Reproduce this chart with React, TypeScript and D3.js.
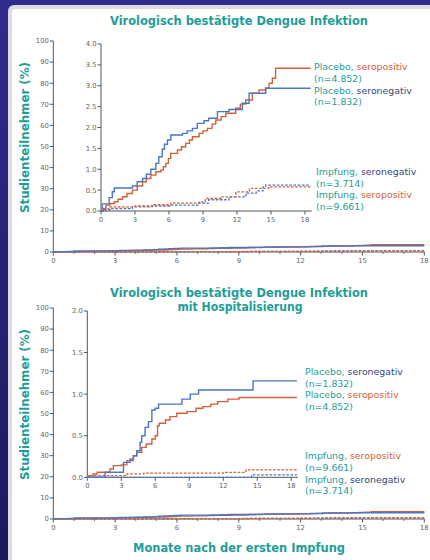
import React from "react";
import * as d3 from "d3";

type Pt = [number, number];

// ---------- data (months, cumulative %) ----------
const X_TICKS = [0, 3, 6, 9, 12, 15, 18];
const MAIN_Y_TICKS = [0, 10, 20, 30, 40, 50, 60, 70, 80, 90, 100];
const TOP_INSET_Y_TICKS = [0, 0.5, 1, 1.5, 2, 2.5, 3, 3.5, 4];
const BOT_INSET_Y_TICKS = [0, 0.5, 1, 1.5, 2];

const topPlaceboSeroneg: Pt[] = [
  [0, 0], [0.1, 0.17], [0.72, 0.32], [1.0, 0.46], [1.17, 0.55], [2.78, 0.6], [3.2, 0.7], [3.67, 0.78],
  [4.0, 0.88], [4.4, 1.0], [4.84, 1.14], [5.1, 1.3], [5.4, 1.48], [5.6, 1.6], [5.87, 1.7], [6.16, 1.82],
  [7.19, 1.86], [7.6, 1.92], [8.07, 1.98], [8.5, 2.1], [9.1, 2.16], [9.5, 2.22], [10.28, 2.38],
  [11.3, 2.43], [12.48, 2.58], [13.07, 2.82], [14.53, 2.94], [18.5, 2.94],
];
const topPlaceboSeropos: Pt[] = [
  [0, 0], [0.2, 0.06], [0.44, 0.14], [0.8, 0.18], [1.17, 0.22], [1.5, 0.28], [1.9, 0.34], [2.3, 0.42],
  [2.78, 0.5], [3.2, 0.6], [3.67, 0.7], [4.0, 0.78], [4.4, 0.86], [4.84, 0.94], [5.28, 0.98], [5.5, 1.06],
  [5.72, 1.14], [5.95, 1.26], [6.16, 1.38], [6.75, 1.46], [7.1, 1.54], [7.48, 1.62], [7.8, 1.7],
  [8.07, 1.78], [8.66, 1.86], [9.0, 1.92], [9.39, 1.98], [9.8, 2.08], [10.13, 2.18], [10.6, 2.26],
  [11.01, 2.34], [11.89, 2.46], [12.3, 2.56], [12.77, 2.66], [13.36, 2.82], [13.95, 2.9], [14.53, 2.95],
  [14.83, 3.06], [15.12, 3.18], [15.41, 3.42], [18.5, 3.42],
];
const topVaccSeropos: Pt[] = [
  [0, 0], [0.3, 0.05], [0.8, 0.1], [3.0, 0.12], [4.5, 0.15], [6.16, 0.19], [8.66, 0.22], [9.2, 0.3],
  [10.6, 0.34], [11.9, 0.46], [13.1, 0.54], [14.8, 0.58], [18.5, 0.58],
];
const topVaccSeroneg: Pt[] = [
  [0, 0], [0.4, 0.03], [0.8, 0.06], [2.78, 0.1], [4.5, 0.12], [6.16, 0.14], [8.66, 0.19], [9.5, 0.27],
  [11.3, 0.34], [12.8, 0.43], [13.7, 0.48], [14.3, 0.58], [14.53, 0.62], [18.5, 0.62],
];

const botPlaceboSeroneg: Pt[] = [
  [0, 0], [1.57, 0.06], [3.19, 0.18], [3.78, 0.22], [4.07, 0.26], [4.37, 0.32], [4.66, 0.42], [4.81, 0.5],
  [5.1, 0.6], [5.4, 0.67], [5.7, 0.81], [5.99, 0.83], [6.29, 0.88], [8.35, 0.94], [9.09, 1.0],
  [9.82, 1.05], [14.63, 1.16], [18.5, 1.16],
];
const botPlaceboSeropos: Pt[] = [
  [0, 0], [0.1, 0.02], [0.5, 0.04], [0.87, 0.06], [2.0, 0.1], [2.3, 0.14], [3.0, 0.15], [3.5, 0.2],
  [4.07, 0.26], [4.37, 0.3], [4.8, 0.36], [5.2, 0.4], [5.7, 0.46], [6.0, 0.5], [6.2, 0.62], [6.35, 0.65],
  [6.9, 0.69], [7.3, 0.73], [7.9, 0.77], [8.8, 0.79], [9.6, 0.83], [10.2, 0.85], [10.9, 0.88],
  [11.5, 0.91], [12.4, 0.94], [13.4, 0.96], [18.5, 0.96],
];
const botVaccSeropos: Pt[] = [[0, 0], [0.5, 0.02], [3.5, 0.04], [5.0, 0.05], [12.0, 0.06], [14.0, 0.09], [18.5, 0.09]];
const botVaccSeroneg: Pt[] = [[0, 0], [14.5, 0.03], [18.5, 0.03]];

// ---------- styles ----------
const TEAL = "#1e9d98";
const RED = "#d4603a";
const BLUE = "#4a76c4";
const NAVY = "#34457e";
const GREY = "#666";
const FONT = "'DejaVu Sans', Verdana, sans-serif";

const clip18 = (d: Pt[]): Pt[] => {
  const out = d.filter((p) => p[0] < 18);
  out.push([18, out[out.length - 1][1]]);
  return out;
};

function Series({ data, x, y, color, dashed }: { data: Pt[]; x: any; y: any; color: string; dashed?: boolean }) {
  const line = d3.line<Pt>().x((d) => x(d[0])).y((d) => y(d[1])).curve(d3.curveStepAfter);
  return (
    <path d={line(data) || ""} fill="none" stroke={color} strokeWidth={dashed ? 1.3 : 1.4}
      strokeDasharray={dashed ? "2.6,1.6" : undefined} />
  );
}

function Axes({ x, y, yTicks, fmt, xEnd, minor, fs }: any) {
  const [y0] = y.range();
  const x0 = x(0);
  const yTop = y(yTicks[yTicks.length - 1]);
  return (
    <g fontFamily={FONT} fontSize={fs} fill={GREY}>
      <line x1={x0} x2={x0} y1={yTop} y2={y0} stroke="#555" strokeWidth={1} />
      <line x1={x0} x2={xEnd} y1={y0} y2={y0} stroke="#555" strokeWidth={1} />
      {yTicks.map((t: number) => (
        <g key={"y" + t}>
          <line x1={x0 - 3.5} x2={x0} y1={y(t)} y2={y(t)} stroke="#555" strokeWidth={1} />
          <text x={x0 - 4.5} y={y(t)} dy="0.35em" textAnchor="end">{fmt(t)}</text>
        </g>
      ))}
      {minor && d3.range(1, 18).filter((m) => m % 3 !== 0).map((m) => (
        <line key={"m" + m} x1={x(m)} x2={x(m)} y1={y0} y2={y0 + 2} stroke="#555" strokeWidth={0.8} />
      ))}
      {X_TICKS.map((t) => (
        <g key={"x" + t}>
          <line x1={x(t)} x2={x(t)} y1={y0} y2={y0 + 3.5} stroke="#555" strokeWidth={1} />
          <text x={x(t)} y={y0 + 10.5} textAnchor="middle">{t}</text>
        </g>
      ))}
    </g>
  );
}

function Label({ x, y, a, b, bColor, n }: any) {
  return (
    <g fontFamily={FONT} fontSize={9.4}>
      <text x={x} y={y} dy="0.35em" fill={TEAL}>
        {a} <tspan fill={bColor}>{b}</tspan>
      </text>
      <text x={x} y={y + 11.5} dy="0.35em" fill={TEAL}>{n}</text>
    </g>
  );
}

function Panel({ mainY0, insetX0, insetY0, insetY1, insetTicks, series }: any) {
  const xMain = d3.scaleLinear().domain([0, 18]).range([53.3, 424.3]);
  const yMain = d3.scaleLinear().domain([0, 100]).range([mainY0, mainY0 - 211]);
  const xIn = d3.scaleLinear().domain([0, 18]).range([insetX0, insetX0 + 18 * 11.33]);
  const yIn = d3.scaleLinear().domain([0, insetTicks[insetTicks.length - 1]]).range([insetY0, insetY1]);
  return (
    <g>
      <Axes x={xMain} y={yMain} yTicks={MAIN_Y_TICKS} fmt={(d: number) => String(d)} xEnd={424.3} minor fs={6.8} />
      {series.map((s: any, i: number) => (
        <Series key={"m" + i} data={clip18(s.data)} x={xMain} y={yMain} color={s.color} dashed={s.dashed} />
      ))}
      <Axes x={xIn} y={yIn} yTicks={insetTicks} fmt={d3.format(".1f")} xEnd={xIn(18.6)} fs={6.8} />
      {series.map((s: any, i: number) => (
        <Series key={"i" + i} data={s.data} x={xIn} y={yIn} color={s.color} dashed={s.dashed} />
      ))}
    </g>
  );
}

export default function App() {
  const topSeries = [
    { data: topVaccSeroneg, color: BLUE, dashed: true },
    { data: topVaccSeropos, color: RED, dashed: true },
    { data: topPlaceboSeropos, color: RED },
    { data: topPlaceboSeroneg, color: BLUE },
  ];
  const botSeries = [
    { data: botVaccSeroneg, color: BLUE, dashed: true },
    { data: botVaccSeropos, color: RED, dashed: true },
    { data: botPlaceboSeropos, color: RED },
    { data: botPlaceboSeroneg, color: BLUE },
  ];
  // Main axes of the lower panel show the same overview curves as the upper panel
  const botMainSeries = topSeries;
  const xMainB = d3.scaleLinear().domain([0, 18]).range([53.3, 424.3]);
  const yMainB = d3.scaleLinear().domain([0, 100]).range([519, 308]);
  const xInB = d3.scaleLinear().domain([0, 18]).range([87.3, 87.3 + 18 * 11.33]);
  const yInB = d3.scaleLinear().domain([0, 2]).range([477.3, 311]);

  return (
    <div style={{ position: "absolute", left: 0, top: 0, width: 430, height: 560 }}>
      <svg width={430} height={560} style={{ display: "block" }}>
        <defs>
          <linearGradient id="bg" x1="0" y1="0" x2="0" y2="1">
            <stop offset="0" stopColor="#2f2c8e" />
            <stop offset="1" stopColor="#1c1a5c" />
          </linearGradient>
        </defs>
        <rect x={0} y={0} width={430} height={560} fill="url(#bg)" />
        <rect x={8} y={5} width={440} height={570} rx={6} fill="#dcdce2" />
        <rect x={12} y={9} width={440} height={570} rx={3} fill="#ffffff" />

        {/* Titles */}
        <g fontFamily={FONT} fontWeight="bold" fill={TEAL} fontSize={12.5}>
          <text x={239} y={25} textAnchor="middle" textLength={258} lengthAdjust="spacingAndGlyphs">Virologisch bestätigte Dengue Infektion</text>
          <text x={239} y={297} textAnchor="middle" textLength={258} lengthAdjust="spacingAndGlyphs">Virologisch bestätigte Dengue Infektion</text>
          <text x={240} y={311} textAnchor="middle" textLength={125} lengthAdjust="spacingAndGlyphs">mit Hospitalisierung</text>
          <text x={239} y={552} textAnchor="middle" textLength={212} lengthAdjust="spacingAndGlyphs">Monate nach der ersten Impfung</text>
          <text transform="translate(29,137.5) rotate(-90)" textAnchor="middle" textLength={151} lengthAdjust="spacingAndGlyphs">Studienteilnehmer (%)</text>
          <text transform="translate(29,404.5) rotate(-90)" textAnchor="middle" textLength={151} lengthAdjust="spacingAndGlyphs">Studienteilnehmer (%)</text>
        </g>

        {/* Top panel */}
        <Panel mainY0={252} insetX0={101} insetY0={211} insetY1={44} insetTicks={TOP_INSET_Y_TICKS} series={topSeries} />

        {/* Bottom panel */}
        <g>
          <Axes x={xMainB} y={yMainB} yTicks={MAIN_Y_TICKS} fmt={(d: number) => String(d)} xEnd={424.3} minor fs={6.8} />
          {botMainSeries.map((s, i) => (
            <Series key={"bm" + i} data={clip18(s.data)} x={xMainB} y={yMainB} color={s.color} dashed={s.dashed} />
          ))}
          <Axes x={xInB} y={yInB} yTicks={BOT_INSET_Y_TICKS} fmt={d3.format(".1f")} xEnd={xInB(18.6)} fs={6.8} />
          {botSeries.map((s, i) => (
            <Series key={"bi" + i} data={s.data} x={xInB} y={yInB} color={s.color} dashed={s.dashed} />
          ))}
        </g>

        {/* Labels top */}
        <Label x={314} y={67} a="Placebo," b="seropositiv" bColor={RED} n="(n=4.852)" />
        <Label x={314} y={90.5} a="Placebo," b="seronegativ" bColor={NAVY} n="(n=1.832)" />
        <Label x={316} y={172} a="Impfung," b="seronegativ" bColor={NAVY} n="(n=3.714)" />
        <Label x={316} y={195} a="Impfung," b="seropositiv" bColor={RED} n="(n=9.661)" />

        {/* Labels bottom */}
        <Label x={305} y={372} a="Placebo," b="seronegativ" bColor={NAVY} n="(n=1.832)" />
        <Label x={305} y={395} a="Placebo," b="seropositiv" bColor={RED} n="(n=4.852)" />
        <Label x={305} y={456} a="Impfung," b="seropositiv" bColor={RED} n="(n=9.661)" />
        <Label x={305} y={479.5} a="Impfung," b="seronegativ" bColor={NAVY} n="(n=3.714)" />
      </svg>
    </div>
  );
}
